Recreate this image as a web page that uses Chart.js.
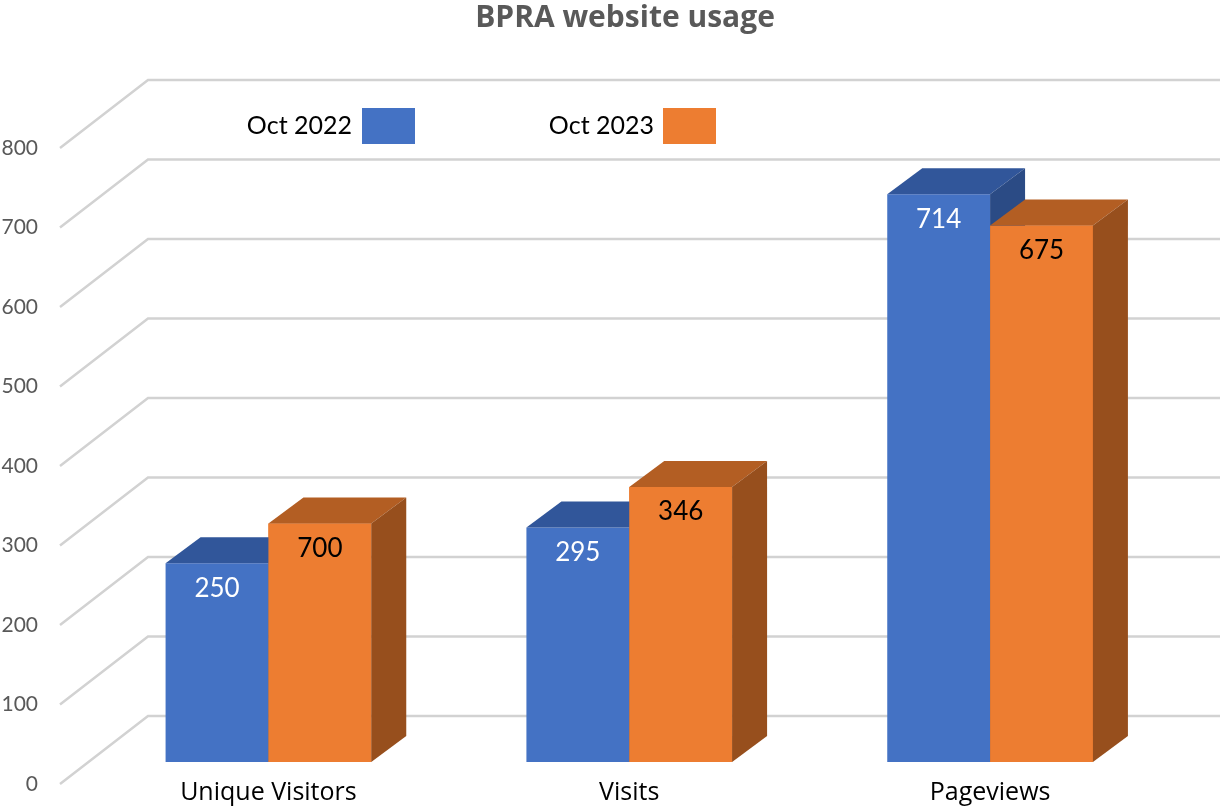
<!DOCTYPE html>
<html>
<head>
<meta charset="utf-8">
<style>
  html, body { margin: 0; padding: 0; background: #fff; }
  #wrap { width: 1220px; height: 808px; }
</style>
<script src="https://cdn.jsdelivr.net/npm/chart.js@4.4.1/dist/chart.umd.min.js"></script>
</head>
<body>
<div id="wrap"><canvas id="usageChart" width="1220" height="808"></canvas></div>
<script>
const categories = ["Unique Visitors", "Visits", "Pageviews"];
const seriesNames = ["Oct 2022", "Oct 2023"];
const oct2022 = [250, 295, 714];
const oct2023 = [300, 346, 675];
const oct2022Labels = ["250", "295", "714"];
const oct2023Labels = ["700", "346", "675"];
const yMin = 0;
const yMax = 800;
const yStep = 100;

const FONT = "Lato, 'Open Sans', sans-serif";
const WIDE_FONT = "'Open Sans', Lato, sans-serif";

// front / top / side shades of each series
const faces = [
  { front: "#4472c4", top: "#31569a", side: "#2b4b85", label: "#ffffff" },
  { front: "#ed7d31", top: "#b35e23", side: "#974f1d", label: "#000000" }
];

// 3d depth of a bar and of the whole wall
const barDepth = { dx: 35, dy: -26 };
const wallFront = { dx: -28, dy: 22 };
const wallBack = { dx: 60, dy: -46 };

const wallGrid = {
  id: "wallGrid",
  afterLayout(chart) {
    // title is centred a little right of the canvas middle
    chart.titleBlock.left = 30;
    chart.titleBlock.right = chart.width;
  },
  beforeDatasetsDraw(chart) {
    const { ctx, chartArea } = chart;
    const y = chart.scales.y;
    ctx.save();
    ctx.strokeStyle = "#d2d2d2";
    ctx.lineWidth = 2.5;
    y.ticks.forEach(t => {
      const py = y.getPixelForValue(t.value);
      ctx.beginPath();
      ctx.moveTo(chartArea.left + wallFront.dx, py + wallFront.dy);
      ctx.lineTo(chartArea.left + wallBack.dx, py + wallBack.dy);
      ctx.lineTo(chart.width, py + wallBack.dy);
      ctx.stroke();
    });
    ctx.restore();
  }
};

function polygon(ctx, pts, color) {
  ctx.beginPath();
  ctx.moveTo(pts[0][0], pts[0][1]);
  for (let i = 1; i < pts.length; i++) ctx.lineTo(pts[i][0], pts[i][1]);
  ctx.closePath();
  ctx.fillStyle = color;
  ctx.fill();
}

// Chart.js paints the last dataset first, so the 3d faces are laid on
// afterwards: blue faces, then the orange fronts again, then orange faces.
const barFaces = {
  id: "barFaces",
  afterDatasetsDraw(chart) {
    const { ctx } = chart;
    ctx.save();
    [0, 1].forEach(di => {
      const meta = chart.getDatasetMeta(di);
      const shade = faces[di];
      const texts = di === 0 ? oct2022Labels : oct2023Labels;
      meta.data.forEach((bar, i) => {
        if (di > 0) bar.draw(ctx, chart.chartArea);
        const { x, y, base, width } = bar.getProps(["x", "y", "base", "width"], true);
        const l = x - width / 2;
        const r = x + width / 2;
        const { dx, dy } = barDepth;
        polygon(ctx, [[l, y], [l + dx, y + dy], [r + dx, y + dy], [r, y]], shade.top);
        polygon(ctx, [[r, y], [r + dx, y + dy], [r + dx, base + dy], [r, base]], shade.side);
        ctx.fillStyle = shade.label;
        ctx.font = "26px " + FONT;
        ctx.textAlign = "center";
        ctx.textBaseline = "middle";
        ctx.fillText(texts[i], x, y + 25);
      });
    });
    ctx.restore();
  }
};

const sideLegend = {
  id: "sideLegend",
  afterDraw(chart) {
    const { ctx } = chart;
    const spots = [{ textRight: 352, box: 362 }, { textRight: 654, box: 663 }];
    ctx.save();
    ctx.font = "25px " + FONT;
    ctx.textAlign = "right";
    ctx.textBaseline = "middle";
    chart.data.datasets.forEach((ds, i) => {
      ctx.fillStyle = "#000";
      ctx.fillText(ds.label, spots[i].textRight, 126);
      ctx.fillStyle = ds.backgroundColor;
      ctx.fillRect(spots[i].box, 108, 53, 36);
    });
    ctx.restore();
  }
};

new Chart(document.getElementById("usageChart"), {
  type: "bar",
  data: {
    labels: categories,
    datasets: [
      { label: seriesNames[0], data: oct2022, backgroundColor: faces[0].front },
      { label: seriesNames[1], data: oct2023, backgroundColor: faces[1].front }
    ]
  },
  options: {
    responsive: false,
    devicePixelRatio: 1,
    animation: false,
    layout: { padding: { left: 0, right: 49.5, top: 0, bottom: 0 } },
    datasets: { bar: { barPercentage: 1, categoryPercentage: 0.57 } },
    plugins: {
      legend: { display: false },
      tooltip: { enabled: false },
      title: {
        display: true,
        text: "BPRA website usage",
        color: "#595959",
        font: { family: WIDE_FONT, size: 30, weight: "bold" },
        padding: { top: 0, bottom: 90 }
      }
    },
    scales: {
      x: {
        grid: { display: false },
        border: { display: false },
        ticks: {
          color: "#000",
          font: { family: WIDE_FONT, size: 25 },
          padding: 8,
          maxRotation: 0
        },
        afterFit(scale) { scale.height = 46; }
      },
      y: {
        min: yMin,
        max: yMax,
        grid: { display: false, drawTicks: false },
        border: { display: false },
        ticks: {
          stepSize: yStep,
          color: "#595959",
          font: { family: FONT, size: 21 },
          padding: 50,
          labelOffset: 22
        },
        afterFit(scale) {
          scale.width = 88;
          scale.paddingTop = 0;
          scale.paddingBottom = 0;
        }
      }
    }
  },
  plugins: [wallGrid, barFaces, sideLegend]
});
</script>
</body>
</html>
